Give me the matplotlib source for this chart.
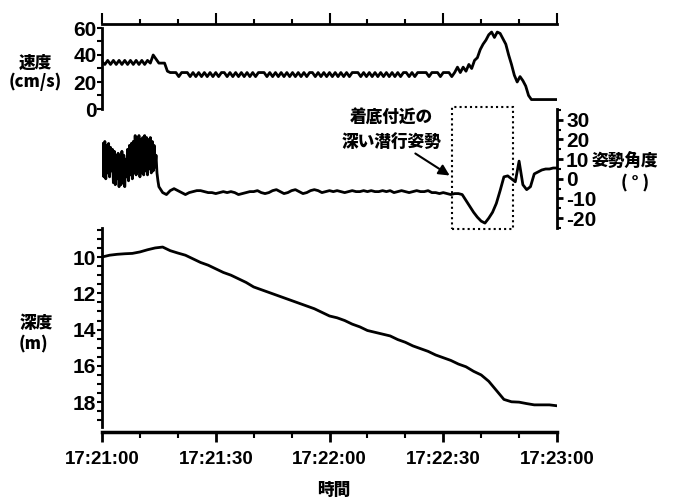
import numpy as np
import matplotlib
matplotlib.use('Agg')
import matplotlib.pyplot as plt
from matplotlib.ticker import MultipleLocator, FixedLocator, FixedFormatter
from matplotlib.patches import Rectangle, FancyArrowPatch

# --- data (time in seconds from 17:21:00) ---
speed_t = np.arange(0, 120.01, 0.75)
speed = [35, 33, 36, 33, 36, 33, 36, 33, 36, 33, 36, 33, 36, 33, 36, 33, 36, 34,
         40, 37, 34, 34, 34, 28, 27, 27, 27, 24, 27, 27, 27, 24, 27,
         24, 27, 24, 27, 24, 27, 24, 27, 24, 27, 27, 24, 27, 24, 27, 24,
         27, 24, 27, 24, 27, 24, 27, 27, 27, 24, 27, 24, 27, 24, 27, 24,
         27, 24, 27, 24, 27, 24, 27, 24, 27, 27, 24, 27, 24, 27, 24, 27,
         24, 27, 24, 27, 24, 27, 24, 27, 27, 27, 24, 27, 24, 27, 24, 27,
         24, 27, 24, 27, 24, 27, 24, 27, 24, 27, 27, 24, 27, 24, 27, 27,
         27, 27, 24, 27, 27, 27, 24, 27, 27, 27, 24, 27,
         31, 27, 31, 28, 33, 30, 36, 38, 44, 48, 51, 55, 57, 53, 57, 56,
         52, 48, 40, 33, 25, 20, 24, 21, 17, 10, 7,
         7, 7, 7, 7, 7, 7, 7, 7, 7]

angle_t = np.concatenate([np.arange(0, 15, 0.25), np.arange(15, 121, 1)])
angle = [2, 18, 1, 19, 0, 17, 3, 18, 1, 16, 4, 15,
         -2, 14, -3, 12, 0, 13, -4, 11, -3, 14, -2, 12, -4, 10,
         1, 15, -1, 17, 2, 18, 0, 19,
         3, 22, 2, 21, 4, 22, 1, 20, 3, 21, 2, 22, 4, 21, 2, 20, 5, 21, 3, 19, 4, 17, 6, 12, 3, -1,
         -4, -7, -8, -6, -5, -6, -7, -8, -7, -6.5,
         -6, -6, -6.5, -7, -7, -7.5, -7, -6.5, -7, -6.5,
         -7, -8, -7.5, -7, -6.5, -6.5, -6, -7, -7.5, -7,
         -6, -5.5, -6.5, -7.5, -7, -6, -5.5, -6.5, -7.5, -7,
         -6, -5.5, -6, -7, -6.5, -6, -6.5, -6, -6.5, -7,
         -6.5, -6, -6.5, -6.5, -6, -6.5, -6, -6.5, -6.5, -6,
         -6.5, -6, -7, -6.5, -6, -6.5, -7, -6.5, -6, -6.5,
         -6.5, -6, -7, -7, -7.5, -7, -7.5, -8, -7.5, -7.5,
         -8, -11, -14, -17, -19.5, -21.5, -22.5, -20, -17, -12.5,
         -6, 1, 1.5, 0, -1.5, 9, -3, -5.5, -4, 2.5,
         3.5, 4.5, 5, 5, 5.5, 5.5]

depth_t = np.arange(0, 121, 2)
depth = [10.0, 9.9, 9.85, 9.82, 9.8, 9.72, 9.6, 9.5, 9.45, 9.65,
         9.78, 9.9, 10.1, 10.3, 10.45, 10.65, 10.85, 11.0, 11.2, 11.4,
         11.65, 11.8, 11.95, 12.1, 12.25, 12.4, 12.55, 12.7, 12.85, 13.05,
         13.25, 13.35, 13.5, 13.7, 13.85, 14.05, 14.15, 14.25, 14.35, 14.55,
         14.7, 14.9, 15.05, 15.2, 15.4, 15.55, 15.7, 15.9, 16.05, 16.3,
         16.5, 16.85, 17.35, 17.85, 17.98, 18.0, 18.08, 18.15, 18.15, 18.15,
         18.2]

time_ticks = [0, 30, 60, 90, 120]
time_labels = ["17:21:00", "17:21:30", "17:22:00", "17:22:30", "17:23:00"]
box_t0, box_t1 = 92.3, 108.4   # deep dive window

plt.rcParams['font.family'] = ['Liberation Sans', 'DejaVu Sans']
plt.rcParams['font.weight'] = 'bold'
plt.rcParams['axes.unicode_minus'] = False
JP = ['Noto Sans CJK JP', 'DejaVu Sans']

W, H = 673, 498
fig = plt.figure(figsize=(W / 100, H / 100), dpi=100)


def rect(x0, y0, x1, y1):
    return [x0 / W, 1 - y1 / H, (x1 - x0) / W, (y1 - y0) / H]


def ftext(x, y, s, **kw):
    fig.text(x / W, 1 - y / H, s, family=JP, fontweight='black', fontsize=12,
             ha='center', va='center', **kw)


LW = 2.0
ax_v = fig.add_axes(rect(102, 28, 557, 109))
ax_a = fig.add_axes(rect(102, 109, 557, 228))
ax_d = fig.add_axes(rect(102, 228, 557, 427))
for ax in (ax_v, ax_a, ax_d):
    ax.set_xlim(0, 120)
    ax.patch.set_visible(False)
    for s in ax.spines.values():
        s.set_visible(False)
        s.set_linewidth(2)

# speed panel
ax_v.plot(speed_t, speed, color='k', lw=LW)
ax_v.set_ylim(0, 60)
ax_v.spines['left'].set_visible(True)
ax_v.spines['top'].set_visible(True)
ax_v.spines['top'].set_position(('outward', 3))
ax_v.xaxis.set_ticks_position('top')
ax_v.xaxis.set_major_locator(FixedLocator(time_ticks))
ax_v.xaxis.set_minor_locator(MultipleLocator(10))
ax_v.tick_params(axis='x', which='major', length=8, width=1.5, labeltop=False)
ax_v.tick_params(axis='x', which='minor', length=3.6, width=1.5)
ax_v.set_yticks([0, 20, 40, 60])
ax_v.yaxis.set_minor_locator(MultipleLocator(10))
ax_v.tick_params(axis='y', which='both', length=3.5, width=1.5, pad=0.5, labelsize=15)

# attitude panel
ax_a.plot(angle_t, angle, color='k', lw=LW)
ax_a.set_ylim(-25, 35.5)
ax_a.spines['right'].set_visible(True)
ax_a.set_xticks([])
ax_a.yaxis.set_ticks_position('right')
ax_a.set_yticks([-20, -10, 0, 10, 20, 30])
ax_a.yaxis.set_minor_locator(MultipleLocator(5))
ax_a.tick_params(axis='y', which='major', length=4.5, width=2, pad=2, labelsize=15)
ax_a.tick_params(axis='y', which='minor', length=3, width=1.5)
ax_a.add_patch(Rectangle((box_t0, -25.5), box_t1 - box_t0, 62.2, fill=False,
                         ls=(0, (1, 1.5)), lw=1.5, ec='k', clip_on=False))

# depth panel
ax_d.plot(depth_t, depth, color='k', lw=LW)
ax_d.set_ylim(19.37, 8.4)
ax_d.spines['left'].set_visible(True)
ax_d.spines['bottom'].set_visible(True)
ax_d.spines['bottom'].set_linewidth(2.5)
ax_d.spines['bottom'].set_position(('outward', 3.6))
ax_d.set_yticks([10, 12, 14, 16, 18])
ax_d.yaxis.set_minor_locator(MultipleLocator(0.5))
ax_d.tick_params(axis='y', which='both', length=3.5, width=1.5, pad=0.5, labelsize=15)
ax_d.xaxis.set_major_locator(FixedLocator(time_ticks))
ax_d.xaxis.set_major_formatter(FixedFormatter(time_labels))
ax_d.xaxis.set_minor_locator(MultipleLocator(10))
ax_d.tick_params(axis='x', which='major', length=7.5, width=2, pad=6.5, labelsize=13.5)
ax_d.tick_params(axis='x', which='minor', length=4, width=1.5)

# labels
ftext(35, 63, "速度")
ftext(35, 82, "(cm/s)")
ftext(36, 323, "深度")
ftext(33, 343, "(m)")
ftext(625, 162, "姿勢角度")
ftext(635, 182, "( ° )")
ftext(391, 118, "着底付近の")
ftext(392, 142, "深い潜行姿勢")
ftext(334, 490, "時間")

fig.add_artist(FancyArrowPatch((413 / W, 1 - 152 / H), (452 / W, 1 - 177 / H),
                               transform=fig.transFigure, arrowstyle='-|>',
                               mutation_scale=16, lw=1.5, color='k'))

fig.savefig("out.png", dpi=100)
